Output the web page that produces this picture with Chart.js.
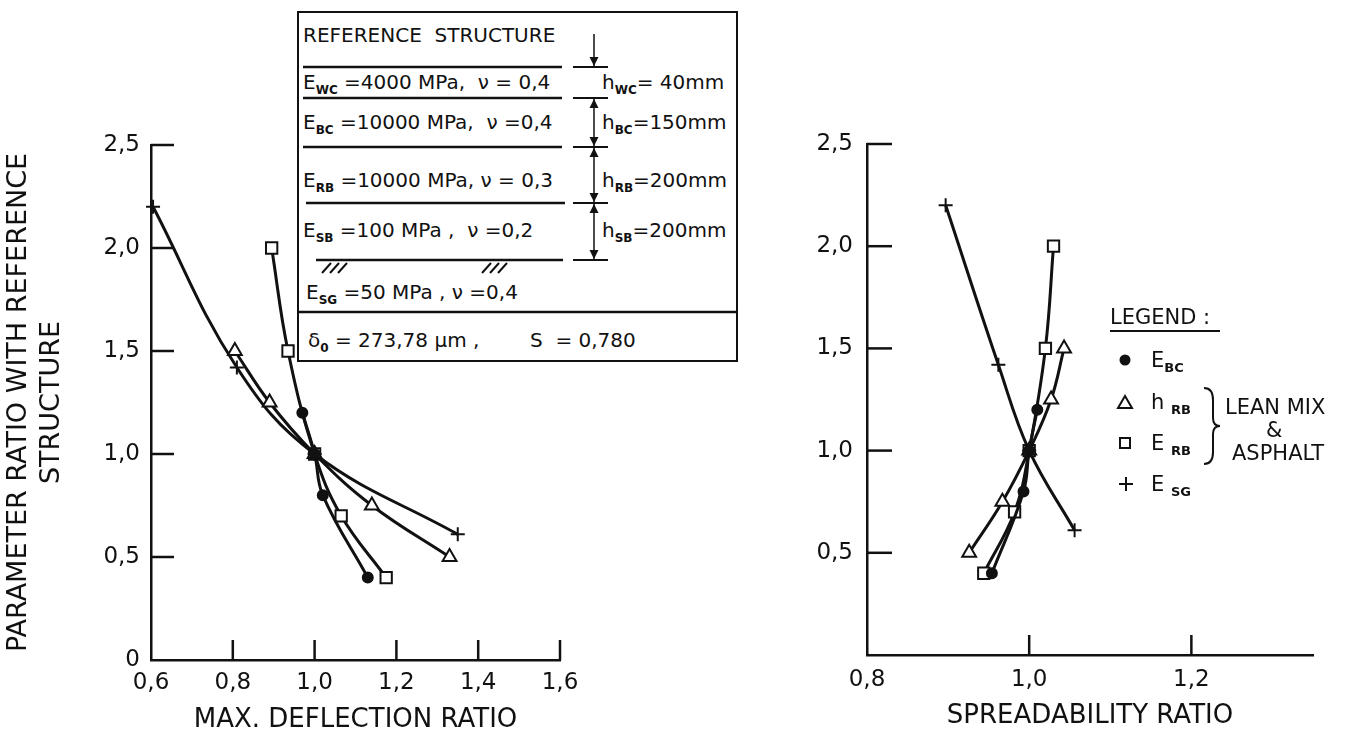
<!DOCTYPE html>
<html>
<head>
<meta charset="utf-8">
<script src="https://cdn.jsdelivr.net/npm/chart.js@4.4.1/dist/chart.umd.min.js"></script>
<style>
  body { margin: 0; background: #fff; }
  #page { position: relative; width: 1351px; height: 736px; overflow: hidden;
          font-family: "DejaVu Sans", sans-serif; color: #111; }
  canvas { position: absolute; left: 0; top: 0; }
  #box { position: absolute; left: 297px; top: 11px; width: 437px; height: 347px;
         border: 2.5px solid #111; background: #fff; }
  #deco { position: absolute; left: 0; top: 0; }
  .lbl { position: absolute; white-space: nowrap; line-height: 1; font-size: 20px;
         transform: translateY(-50%); }
  .lbl sub { font-size: 12px; font-weight: bold; vertical-align: -5px; line-height: 0; }
  .lg { font-size: 21px; }
  .lg sub { font-size: 13px; }
</style>
</head>
<body>
<div id="page">
  <canvas id="deflection" width="1351" height="736"></canvas>
  <canvas id="spread" width="1351" height="736"></canvas>

  <!-- reference structure panel -->
  <div id="box"></div>
  <svg id="deco" width="1351" height="736">
    <defs>
      <marker id="ah" viewBox="0 0 10 10" refX="10" refY="5" markerWidth="6" markerHeight="7"
              orient="auto-start-reverse"><path d="M0,0 L10,5 L0,10 z" fill="#111"/></marker>
    </defs>
    <g stroke="#111" stroke-width="2.5" fill="none">
      <line x1="303" y1="67" x2="562" y2="67"/>
      <line x1="303" y1="98" x2="562" y2="98"/>
      <line x1="303" y1="147" x2="562" y2="147"/>
      <line x1="306" y1="203" x2="565" y2="203"/>
      <line x1="316" y1="260" x2="563" y2="260"/>
      <line x1="297" y1="312" x2="737" y2="312"/>
    </g>
    <g stroke="#111" stroke-width="2" fill="none">
      <line x1="573" y1="67" x2="608" y2="67"/>
      <line x1="573" y1="98" x2="608" y2="98"/>
      <line x1="573" y1="147" x2="608" y2="147"/>
      <line x1="573" y1="203" x2="608" y2="203"/>
      <line x1="573" y1="260" x2="608" y2="260"/>
      <!-- ground hatching -->
      <path d="M322,273 L331,263 M330,273 L339,263 M338,273 L347,263"/>
      <path d="M482,273 L491,263 M490,273 L499,263 M498,273 L507,263"/>
    </g>
    <g stroke="#111" stroke-width="1.5" fill="none">
      <line x1="594" y1="34" x2="594" y2="66" marker-end="url(#ah)"/>
      <line x1="594" y1="99" x2="594" y2="146" marker-start="url(#ah)" marker-end="url(#ah)"/>
      <line x1="594" y1="148" x2="594" y2="202" marker-start="url(#ah)" marker-end="url(#ah)"/>
      <line x1="594" y1="204" x2="594" y2="259" marker-start="url(#ah)" marker-end="url(#ah)"/>
    </g>
    <!-- legend symbols -->
    <circle cx="1125" cy="360" r="5.5" fill="#111"/>
    <g stroke="#111" stroke-width="2" fill="#fff">
      <path d="M1118,408 L1125,396 L1132,408 z"/>
      <rect x="1120" y="438" width="10" height="10"/>
      <path d="M1119,484 L1133,484 M1126,477 L1126,491"/>
      <line x1="1110" y1="331" x2="1220" y2="331"/>
      <path d="M1204,388 Q1213,388 1213,400 L1213,418 Q1213,426 1220,426 Q1213,426 1213,434 L1213,452 Q1213,464 1204,464" fill="none"/>
    </g>
  </svg>

  <div class="lbl" style="left:303px;top:35px">REFERENCE&nbsp; STRUCTURE</div>
  <div class="lbl" style="left:303px;top:82px">E<sub>WC</sub> =4000 MPa,&nbsp; ν = 0,4</div>
  <div class="lbl" style="left:303px;top:122px">E<sub>BC</sub> =10000 MPa,&nbsp; ν =0,4</div>
  <div class="lbl" style="left:303px;top:180px">E<sub>RB</sub> =10000 MPa, ν = 0,3</div>
  <div class="lbl" style="left:303px;top:230px">E<sub>SB</sub> =100 MPa ,&nbsp; ν =0,2</div>
  <div class="lbl" style="left:306px;top:292px">E<sub>SG</sub> =50 MPa , ν =0,4</div>
  <div class="lbl" style="left:602px;top:82px">h<sub>WC</sub>= 40mm</div>
  <div class="lbl" style="left:602px;top:122px">h<sub>BC</sub>=150mm</div>
  <div class="lbl" style="left:602px;top:180px">h<sub>RB</sub>=200mm</div>
  <div class="lbl" style="left:602px;top:230px">h<sub>SB</sub>=200mm</div>
  <div class="lbl" style="left:308px;top:340px">δ<sub>0</sub> = 273,78 μm ,</div>
  <div class="lbl" style="left:530px;top:340px">S&nbsp; = 0,780</div>

  <!-- legend -->
  <div class="lbl lg" style="left:1110px;top:317px">LEGEND :</div>
  <div class="lbl lg" style="left:1151px;top:360px">E<sub>BC</sub></div>
  <div class="lbl lg" style="left:1151px;top:402px">h <sub>RB</sub></div>
  <div class="lbl lg" style="left:1151px;top:443px">E <sub>RB</sub></div>
  <div class="lbl lg" style="left:1151px;top:484px">E <sub>SG</sub></div>
  <div class="lbl lg" style="left:1225px;top:407px">LEAN MIX</div>
  <div class="lbl lg" style="left:1266px;top:430px">&amp;</div>
  <div class="lbl lg" style="left:1232px;top:453px">ASPHALT</div>
</div>

<script>
// parameter ratio with the reference structure (same for both panels)
const ratioEbc = [1.2, 1.0, 0.8, 0.4];
const ratioHrb = [1.5, 1.25, 1.0, 0.75, 0.5];
const ratioErb = [2.0, 1.5, 1.0, 0.7, 0.4];
const ratioEsg = [2.2, 1.42, 1.0, 0.61];

// max. deflection ratio
const deflEbc = [0.97, 1.0, 1.02, 1.13];
const deflHrb = [0.805, 0.89, 1.0, 1.14, 1.33];
const deflErb = [0.895, 0.935, 1.0, 1.065, 1.175];
const deflEsg = [0.605, 0.81, 1.0, 1.35];

// spreadability ratio
const spreadEbc = [1.01, 1.0, 0.993, 0.954];
const spreadHrb = [1.043, 1.027, 1.0, 0.967, 0.926];
const spreadErb = [1.03, 1.02, 1.0, 0.982, 0.944];
const spreadEsg = [0.897, 0.962, 1.0, 1.056];

// tick labels
const deflTicks = [0.6, 0.8, 1.0, 1.2, 1.4, 1.6];
const spreadTicks = [0.8, 1.0, 1.2];
const ratioTicksLeft = [0, 0.5, 1.0, 1.5, 2.0, 2.5];
const ratioTicksRight = [0.5, 1.0, 1.5, 2.0, 2.5];

const ink = '#111';

function pts(xs, ys) {
  return xs.map((x, i) => ({ x: x, y: ys[i] }));
}

// comma decimals, plain 0 at the origin
function fmt(v) {
  return v === 0 ? '0' : v.toFixed(1).replace('.', ',');
}

function series(label, xs, ys, style, radius, fill) {
  return {
    label: label,
    data: pts(xs, ys),
    showLine: true,
    tension: 0.4,
    borderColor: ink,
    borderWidth: 3,
    pointStyle: style,
    pointRadius: radius,
    pointBorderWidth: 2,
    pointBorderColor: ink,
    pointBackgroundColor: fill,
    clip: 12
  };
}

// tick marks drawn from the axes into the plot
const innerTicks = {
  id: 'innerTicks',
  afterDraw(chart, args, opts) {
    const { ctx, chartArea } = chart;
    const x = chart.scales.x, y = chart.scales.y;
    ctx.save();
    ctx.strokeStyle = ink;
    ctx.lineWidth = 2.5;
    x.ticks.forEach(t => {
      if (t.value <= x.min) return;
      const px = x.getPixelForValue(t.value);
      ctx.beginPath();
      ctx.moveTo(px, chartArea.bottom);
      ctx.lineTo(px, chartArea.bottom - opts.x);
      ctx.stroke();
    });
    y.ticks.forEach(t => {
      if (t.value <= y.min) return;
      const py = y.getPixelForValue(t.value);
      ctx.beginPath();
      ctx.moveTo(chartArea.left, py);
      ctx.lineTo(chartArea.left + opts.y, py);
      ctx.stroke();
    });
    ctx.restore();
  }
};

Chart.defaults.font.family = '"DejaVu Sans", sans-serif';
Chart.defaults.color = ink;

// ===================================================== max. deflection ratio
let deflection = new Chart(document.getElementById('deflection'), {
  type: 'scatter',
  data: {
    datasets: [
      series('E_BC', deflEbc, ratioEbc, 'circle', 5, ink),
      series('h_RB', deflHrb, ratioHrb, 'triangle', 8, '#fff'),
      series('E_RB', deflErb, ratioErb, 'rect', 8, '#fff'),
      series('E_SG', deflEsg, ratioEsg, 'cross', 7, ink)
    ]
  },
  options: {
    responsive: false,
    animation: false,
    devicePixelRatio: 1,
    layout: { padding: { top: 145, right: 791, bottom: 0, left: 0 } },
    plugins: { legend: { display: false }, tooltip: { enabled: false }, innerTicks: { x: 20, y: 23 } },
    scales: {
      x: {
        type: 'linear', min: 0.6, max: 1.6,
        afterBuildTicks: s => { s.ticks = deflTicks.map(v => ({ value: v })); },
        afterFit: s => { s.height = 76; },
        grid: { display: false, drawTicks: false },
        border: { display: true, color: ink, width: 2.5 },
        ticks: { color: ink, font: { size: 23 }, padding: 9, maxRotation: 0, autoSkip: false, callback: fmt },
        title: { display: true, text: 'MAX. DEFLECTION RATIO', color: ink, font: { size: 26 }, padding: { top: 0, bottom: 0 } }
      },
      y: {
        type: 'linear', min: 0, max: 2.5,
        afterBuildTicks: s => { s.ticks = ratioTicksLeft.map(v => ({ value: v })); },
        afterFit: s => { s.width = 151; },
        grid: { display: false, drawTicks: false },
        border: { display: true, color: ink, width: 2.5 },
        ticks: { color: ink, font: { size: 23 }, padding: 11, autoSkip: false, callback: fmt },
        title: { display: true, text: ['PARAMETER RATIO WITH REFERENCE', 'STRUCTURE'], color: ink,
                 font: { size: 27 }, padding: { top: 3, bottom: 0 } }
      }
    }
  },
  plugins: [innerTicks]
});

// ======================================================= spreadability ratio
let spread = new Chart(document.getElementById('spread'), {
  type: 'scatter',
  data: {
    datasets: [
      series('E_BC', spreadEbc, ratioEbc, 'circle', 5, ink),
      series('h_RB', spreadHrb, ratioHrb, 'triangle', 8, '#fff'),
      series('E_RB', spreadErb, ratioErb, 'rect', 8, '#fff'),
      series('E_SG', spreadEsg, ratioEsg, 'cross', 7, ink)
    ]
  },
  options: {
    responsive: false,
    animation: false,
    devicePixelRatio: 1,
    layout: { padding: { top: 144, right: 38, bottom: 0, left: 0 } },
    plugins: { legend: { display: false }, tooltip: { enabled: false }, innerTicks: { x: 20, y: 25 } },
    scales: {
      x: {
        type: 'linear', min: 0.8, max: 1.35,
        afterBuildTicks: s => { s.ticks = spreadTicks.map(v => ({ value: v })); },
        afterFit: s => { s.height = 81; },
        grid: { display: false, drawTicks: false },
        border: { display: true, color: ink, width: 2.5 },
        ticks: { color: ink, font: { size: 23 }, padding: 11, maxRotation: 0, autoSkip: false, callback: fmt },
        title: { display: true, text: 'SPREADABILITY RATIO', color: ink, font: { size: 26 }, padding: { top: 0, bottom: 4 } }
      },
      y: {
        type: 'linear', min: 0, max: 2.5,
        afterBuildTicks: s => { s.ticks = ratioTicksRight.map(v => ({ value: v })); },
        afterFit: s => { s.width = 867; },
        grid: { display: false, drawTicks: false },
        border: { display: true, color: ink, width: 2.5 },
        ticks: { color: ink, font: { size: 23 }, padding: 14, autoSkip: false, callback: fmt }
      }
    }
  },
  plugins: [innerTicks]
});
</script>
</body>
</html>
